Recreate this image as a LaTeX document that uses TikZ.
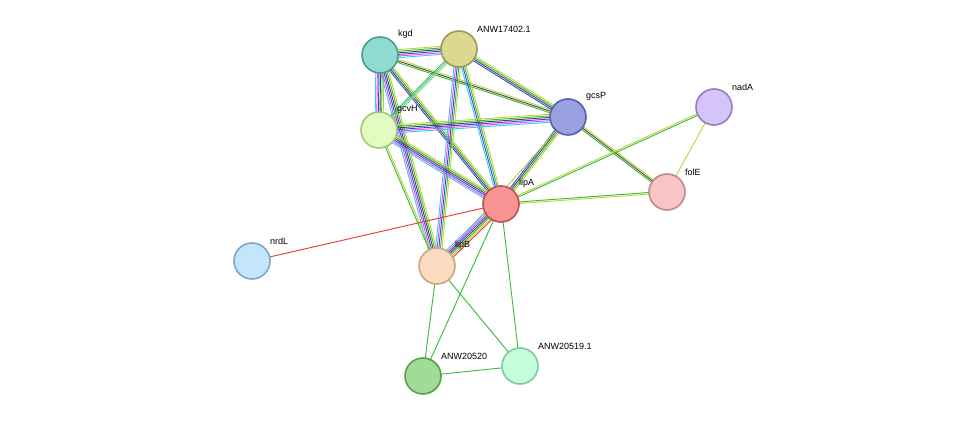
\documentclass[tikz,border=0pt]{standalone}
\usepackage{fontspec}
\setmainfont{Liberation Sans}
\usetikzlibrary{calc}
\definecolor{cy}{HTML}{33CCEE}
\definecolor{mg}{HTML}{EE44EE}
\definecolor{bl}{HTML}{3344EE}
\definecolor{bk}{HTML}{444444}
\definecolor{gr}{HTML}{33BB33}
\definecolor{yg}{HTML}{BBD433}
\definecolor{rd}{HTML}{EE3333}
\definecolor{f1}{HTML}{8FDCD0}\definecolor{s1}{HTML}{4E9A92}
\definecolor{f2}{HTML}{DCD890}\definecolor{s2}{HTML}{9C9A52}
\definecolor{f3}{HTML}{E0FCC0}\definecolor{s3}{HTML}{A4C480}
\definecolor{f4}{HTML}{98A0E0}\definecolor{s4}{HTML}{5860A8}
\definecolor{f5}{HTML}{D4C4F8}\definecolor{s5}{HTML}{9080C0}
\definecolor{f6}{HTML}{F8C4C4}\definecolor{s6}{HTML}{C08888}
\definecolor{f7}{HTML}{F89494}\definecolor{s7}{HTML}{C05050}
\definecolor{f8}{HTML}{C4E6FC}\definecolor{s8}{HTML}{7EA6C4}
\definecolor{f9}{HTML}{FCDCC0}\definecolor{s9}{HTML}{C8A880}
\definecolor{f10}{HTML}{A0DC98}\definecolor{s10}{HTML}{5C9C50}
\definecolor{f11}{HTML}{C4FCDC}\definecolor{s11}{HTML}{80C8A0}
\newcommand\medge[3]{%
  \foreach \c [count=\i] in {#3}{\xdef\nn{\i}}%
  \foreach \c [count=\i] in {#3}{%
    \pgfmathsetmacro\o{(\i-(\nn+1)/2)*1.6}%
    \draw[\c,line width=0.9pt] ($(#1.center)!\o pt!90:(#2.center)$) -- ($(#2.center)!\o pt!-90:(#1.center)$);}%
}
\tikzset{prot/.style={circle,minimum size=36pt,line width=1.6pt,fill=f#1,draw=s#1},
 lab/.style={font=\fontsize{9pt}{10pt}\selectfont,anchor=south west,inner sep=1pt}}
\begin{document}
\begin{tikzpicture}[x=1pt,y=-1pt]
\useasboundingbox (0,0) rectangle (975,422);
\path
 (380,55) coordinate (kgd) (459,49) coordinate (anw) (379,130) coordinate (gcvH)
 (568,117) coordinate (gcsP) (714,107) coordinate (nadA) (667,192) coordinate (folE)
 (501,204) coordinate (lipA) (252,261) coordinate (nrdL) (437,266) coordinate (lipB)
 (423,376) coordinate (a20) (520,366) coordinate (a19);
\medge{kgd}{anw}{cy,mg,bl,bk,gr,yg}
\medge{kgd}{gcvH}{cy,mg,bl,bk,gr,yg}
\medge{kgd}{gcsP}{gr,bk,yg}
\medge{kgd}{lipA}{bl,bk,gr,yg}
\medge{kgd}{lipB}{cy,mg,bl,bk,gr,yg}
\medge{anw}{gcvH}{gr,cy,yg}
\medge{anw}{gcsP}{bl,bk,gr,yg}
\medge{anw}{lipA}{cy,bl,gr,yg}
\medge{anw}{lipB}{cy,mg,bl,gr,yg}
\medge{gcvH}{gcsP}{cy,mg,bl,bk,gr,yg}
\medge{gcvH}{lipA}{cy,mg,bl,bk,gr,yg}
\medge{gcvH}{lipB}{gr,yg}
\medge{gcsP}{lipA}{bl,bk,gr,yg}
\medge{gcsP}{folE}{gr,bk,yg}
\medge{gcsP}{lipB}{yg}
\medge{lipA}{lipB}{cy,mg,bl,bk,gr,yg,rd}
\medge{lipA}{nrdL}{rd}
\medge{lipA}{folE}{yg,gr}
\medge{lipA}{nadA}{gr,yg}
\medge{nadA}{folE}{yg}
\medge{lipA}{a20}{gr}
\medge{lipA}{a19}{gr}
\medge{lipB}{a20}{gr}
\medge{lipB}{a19}{gr}
\medge{a20}{a19}{gr}
\node[prot=1] (n1) at (kgd) {};
\node[prot=2] (n2) at (anw) {};
\node[prot=3] (n3) at (gcvH) {};
\node[prot=4] (n4) at (gcsP) {};
\node[prot=5] (n5) at (nadA) {};
\node[prot=6] (n6) at (folE) {};
\node[prot=7] (n7) at (lipA) {};
\node[prot=8] (n8) at (nrdL) {};
\node[prot=9] (n9) at (lipB) {};
\node[prot=10] (n10) at (a20) {};
\node[prot=11] (n11) at (a19) {};
\node[lab] at (397,40) {kgd};
\node[lab] at (476,34) {ANW17402.1};
\node[lab] at (396,115) {gcvH};
\node[lab] at (585,102) {gcsP};
\node[lab] at (731,92) {nadA};
\node[lab] at (684,177) {folE};
\node[lab] at (518,189) {lipA};
\node[lab] at (269,246) {nrdL};
\node[lab] at (454,251) {lipB};
\node[lab] at (440,361) {ANW20520};
\node[lab] at (537,351) {ANW20519.1};
\end{tikzpicture}
\end{document}
